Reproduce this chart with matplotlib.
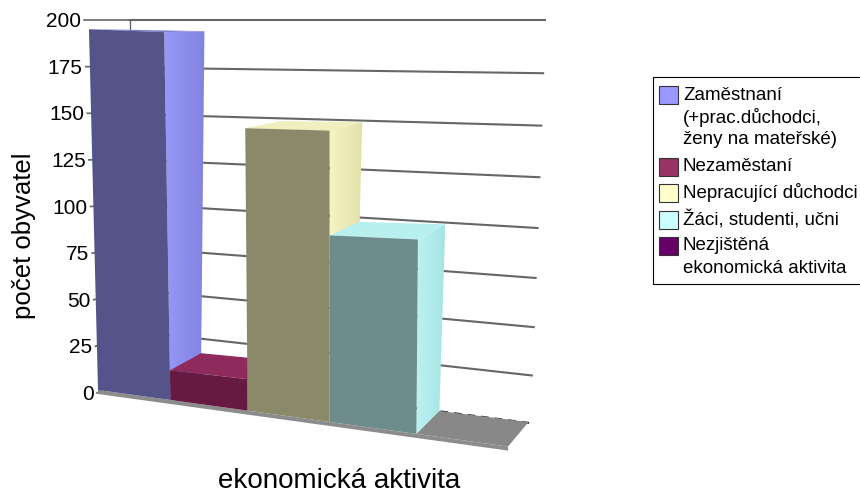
import matplotlib
matplotlib.use("Agg")
import matplotlib.pyplot as plt
import matplotlib.colors as mcolors
import numpy as np
from matplotlib.patches import Polygon, Rectangle

plt.rcParams['font.family'] = ['Liberation Sans', 'DejaVu Sans']

# data
categories = ['Zaměstnaní\n(+prac.důchodci,\nženy na mateřské)', 'Nezaměstaní',
              'Nepracující důchodci', 'Žáci, studenti, učni',
              'Nezjištěná\nekonomická aktivita']
values = [195, 15, 143, 88, 0]
y_ticks = [0, 25, 50, 75, 100, 125, 150, 175, 200]

# colours: legend, front face, side face (light to dark), top face
legend_colors = ['#9999FF', '#993366', '#FFFFCC', '#CCFFFF', '#660066']
front_colors = ['#54548A', '#661A42', '#8A8A6A', '#6E8C8C', '#888888']
side_colors = [('#9898F8', '#8282E0'), ('#8F2A5C', '#8F2A5C'), ('#F6F4C2', '#E2E0AA'),
               ('#BAF2F2', '#A8E4E4'), ('#888888', '#888888')]
top_colors = ['#7C7CD0', '#8F2A5C', '#EFEFC0', '#B8F0F0', '#888888']


def front_x(u):
    return 98 + 70 * u + 2.4 * u ** 2


def project(u, v, d=0.0):
    """category position u, value v, depth d (0 front, 1 back) -> pixel x, y"""
    x0 = front_x(u)
    base = 390 + 0.138 * (x0 - 98)
    scale = 1.85 + 0.09 * u - 0.0005 * u * (v - 88)
    x = x0 + 0.0002 * (x0 - 330) * v
    y = base - scale * v
    x += d * (33 - 2.5 * u + 0.05 * v)
    y -= d * (17 + 1.5 * u - 0.09 * v)
    return x, y


def wall_left(v):
    return 130, 371 - 1.585 * v - 0.00085 * v ** 2


def wall_right(v):
    return 530 + 15 * v / 200, 423 - 1.885 * v - 0.00065 * v ** 2


def tick_pos(v):
    return 97 - 13 * v / 200, 393 - 1.865 * v


def gradient_face(ax, points, colors, z):
    """fill a polygon with a left to right gradient"""
    xs = [p[0] for p in points]
    ys = [p[1] for p in points]
    cmap = mcolors.LinearSegmentedColormap.from_list('side', colors)
    im = ax.imshow(np.linspace(0, 1, 64).reshape(1, -1), cmap=cmap, aspect='auto',
                   extent=(min(xs), max(xs), max(ys), min(ys)), zorder=z)
    poly = Polygon(points, facecolor='none', edgecolor='none', transform=ax.transData)
    ax.add_patch(poly)
    im.set_clip_path(poly)


fig = plt.figure(figsize=(8.6, 4.93), dpi=100)
ax = fig.add_axes([0, 0, 1, 1])

# back wall grid
grid_color = '#666666'
for v in y_ticks:
    xl, yl = wall_left(v)
    xr, yr = wall_right(v)
    tx, ty = tick_pos(v)
    ax.plot([tx, xl], [ty, yl], color=grid_color, lw=1.2, zorder=1)
    if v == 0:
        ax.plot([xl, xr], [yl, yr], color='#222222', lw=1.4, ls=(0, (4, 3)), zorder=1)
    else:
        ax.plot([xl, xr], [yl, yr], color=grid_color, lw=1.5, zorder=1)
    ax.text(tx - 3, ty + 1.5, str(v), ha='right', va='center', fontsize=15, color='black')
ax.plot([130, 130], [wall_left(200)[1], wall_left(195)[1]], color=grid_color, lw=1, zorder=1)

# floor strip along the front
ax.add_patch(Polygon([project(0, 0), project(5, 0), (front_x(5), project(5, 0)[1] + 4),
                      (front_x(0), project(0, 0)[1] + 4)],
                     facecolor='#8C8C8C', edgecolor='none', zorder=2))

# bars, left to right so nearer faces overlap
for i, v in enumerate(values):
    z = 3 + i
    side = [project(i + 1, 0), project(i + 1, v), project(i + 1, v, 1), project(i + 1, 0, 1)]
    top = [project(i, v), project(i + 1, v), project(i + 1, v, 1), project(i, v, 1)]
    front = [project(i, 0), project(i + 1, 0), project(i + 1, v), project(i, v)]
    if v > 0:
        gradient_face(ax, side, side_colors[i], z)
    ax.add_patch(Polygon(top, facecolor=top_colors[i], edgecolor='none', zorder=z))
    ax.add_patch(Polygon(front, facecolor=front_colors[i], edgecolor='none', zorder=z))

ax.text(24, 236, 'počet obyvatel', rotation=90, ha='center', va='center', fontsize=18.5)
ax.text(339, 481, 'ekonomická aktivita', ha='center', va='center', fontsize=20)

# legend box runs off the right edge like the original
ax.add_patch(Rectangle((653, 77), 230, 207, facecolor='white', edgecolor='black', lw=0.8, zorder=10))
line_h = 22.5
y = 95
for name, color in zip(categories, legend_colors):
    ax.add_patch(Rectangle((659, y - 9), 19, 18, facecolor=color, edgecolor='#333333',
                           lw=0.8, zorder=11))
    for line in name.split('\n'):
        ax.text(683, y, line, ha='left', va='center', fontsize=13.5, zorder=11)
        y += line_h
    y += 4

ax.set_xlim(0, 860)
ax.set_ylim(493, 0)
ax.axis('off')

fig.savefig('out.png', dpi=100)
